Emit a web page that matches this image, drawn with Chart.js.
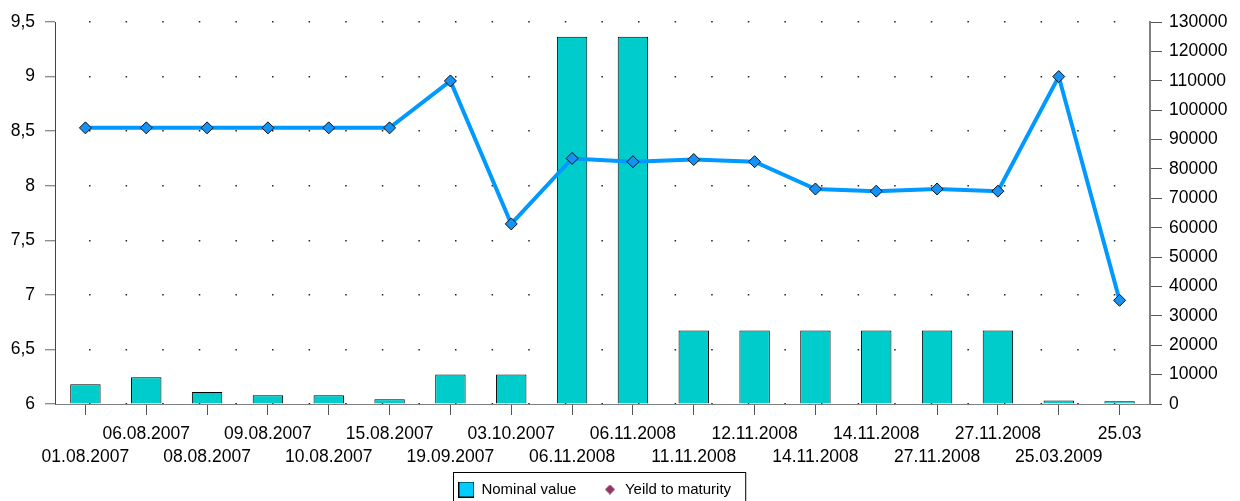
<!DOCTYPE html>
<html>
<head>
<meta charset="utf-8">
<script src="https://cdn.jsdelivr.net/npm/chart.js@4/dist/chart.umd.min.js"></script>
<style>
  body { margin: 0; background: #fff; }
</style>
</head>
<body>
<canvas id="chart" width="1240" height="501"></canvas>
<script>
const categories = [
  '01.08.2007', '06.08.2007', '08.08.2007', '09.08.2007', '10.08.2007', '15.08.2007',
  '19.09.2007', '03.10.2007', '06.11.2008', '06.11.2008', '11.11.2008', '12.11.2008',
  '14.11.2008', '14.11.2008', '27.11.2008', '27.11.2008', '25.03.2009', '25.03'
];
const nominalValue = [
  6700, 9100, 4100, 3000, 3000, 1600, 10000, 10000, 125000, 125000,
  25000, 25000, 25000, 25000, 25000, 25000, 1200, 900
];
const yieldToMaturity = [
  8.53, 8.53, 8.53, 8.53, 8.53, 8.53, 8.96, 7.65, 8.25, 8.22,
  8.24, 8.22, 7.97, 7.95, 7.97, 7.95, 9.0, 6.95
];
const seriesNames = ['Nominal value', 'Yeild to maturity'];

// labels alternate between two rows, like the original
const tickLabels = categories.map((c, i) => (i % 2 === 0 ? ['', c] : [c]));

Chart.defaults.font.family = '"Liberation Sans", Arial, sans-serif';
Chart.defaults.color = '#000';

// legend swatches as small canvases
function makeSwatch(size, draw) {
  const c = document.createElement('canvas');
  c.width = size;
  c.height = size;
  draw(c.getContext('2d'), size);
  return c;
}
const boxSwatch = makeSwatch(16, (g, s) => {
  g.fillStyle = '#00CCFF';
  g.fillRect(0, 0, s, s);
  g.strokeStyle = '#000';
  g.lineWidth = 1;
  g.strokeRect(0.5, 0.5, s - 1, s - 1);
});
const diamondSwatch = makeSwatch(10, (g, s) => {
  g.beginPath();
  g.moveTo(s / 2, 0.5);
  g.lineTo(s - 0.5, s / 2);
  g.lineTo(s / 2, s - 0.5);
  g.lineTo(0.5, s / 2);
  g.closePath();
  g.fillStyle = '#993366';
  g.fill();
  g.strokeStyle = '#4a1a30';
  g.lineWidth = 0.7;
  g.stroke();
});

const legendTweak = {
  id: 'legendTweak',
  afterLayout(chart) {
    const lg = chart.legend;
    lg.left -= 25;
    lg.right -= 25;
    lg.top = chart.chartArea.bottom + 52;
  },
  afterDraw(chart) {
    const hb = chart.legend.legendHitBoxes;
    if (!hb || hb.length < 2) return;
    const ctx = chart.ctx;
    const left = hb[0].left - 6;
    const right = hb[1].left + hb[1].width + 14;
    const top = chart.legend.top + 16;
    ctx.save();
    ctx.strokeStyle = '#000';
    ctx.lineWidth = 1;
    ctx.strokeRect(Math.round(left) + 0.5, Math.round(top) + 0.5, right - left, 60);
    ctx.restore();
  }
};

new Chart(document.getElementById('chart'), {
  type: 'bar',
  data: {
    labels: tickLabels,
    datasets: [
      {
        type: 'line',
        label: seriesNames[1],
        data: yieldToMaturity,
        yAxisID: 'y',
        borderColor: '#0099FF',
        borderWidth: 4,
        pointStyle: 'rectRot',
        pointRadius: 6,
        pointBackgroundColor: '#1592F5',
        pointBorderColor: '#111',
        pointBorderWidth: 1,
        tension: 0,
        order: 0
      },
      {
        type: 'bar',
        label: seriesNames[0],
        data: nominalValue,
        yAxisID: 'y1',
        backgroundColor: '#00CCCC',
        borderColor: '#000',
        borderWidth: 1,
        categoryPercentage: 1,
        barPercentage: 0.5,
        order: 1
      }
    ]
  },
  options: {
    responsive: false,
    animation: false,
    layout: { padding: { top: 22, left: 0, right: 0, bottom: 0 } },
    plugins: {
      tooltip: { enabled: false },
      legend: {
        position: 'bottom',
        maxHeight: 29,
        labels: {
          usePointStyle: true,
          padding: 26,
          font: { size: 15 },
          generateLabels: () => [
            { text: seriesNames[0], pointStyle: boxSwatch, datasetIndex: 1, hidden: false, lineWidth: 0 },
            { text: seriesNames[1], pointStyle: diamondSwatch, datasetIndex: 0, hidden: false, lineWidth: 0 }
          ]
        }
      }
    },
    scales: {
      x: {
        offset: true,
        grid: {
          offset: false,
          drawOnChartArea: false,
          drawTicks: true,
          tickLength: 11,
          color: '#555'
        },
        border: { color: '#808080', width: 1 },
        ticks: {
          autoSkip: false,
          maxRotation: 0,
          minRotation: 0,
          padding: 7,
          font: { size: 17.5, lineHeight: 1.35 }
        },
        afterFit: (s) => { s.height = 68; }
      },
      y: {
        position: 'left',
        min: 6,
        max: 9.5,
        grid: {
          color: '#222',
          lineWidth: 1.5,
          drawTicks: true,
          tickLength: 10,
          tickColor: '#666',
          tickWidth: 1,
          tickBorderDash: []
        },
        border: { color: '#444', width: 1, dash: [1.5, 35.1], dashOffset: 3.6 },
        ticks: {
          stepSize: 0.5,
          padding: 10,
          font: { size: 17.5 },
          callback: (v) => String(v).replace('.', ',')
        },
        afterFit: (s) => { s.width = 55; }
      },
      y1: {
        position: 'right',
        min: 0,
        max: 130000,
        grid: {
          drawOnChartArea: false,
          drawTicks: true,
          tickLength: 12,
          color: '#555'
        },
        border: { color: '#808080', width: 2 },
        ticks: {
          stepSize: 10000,
          padding: 7,
          font: { size: 17.5 },
          callback: (v) => String(v)
        },
        afterFit: (s) => { s.width = 90; }
      }
    }
  },
  plugins: [legendTweak]
});
</script>
</body>
</html>
